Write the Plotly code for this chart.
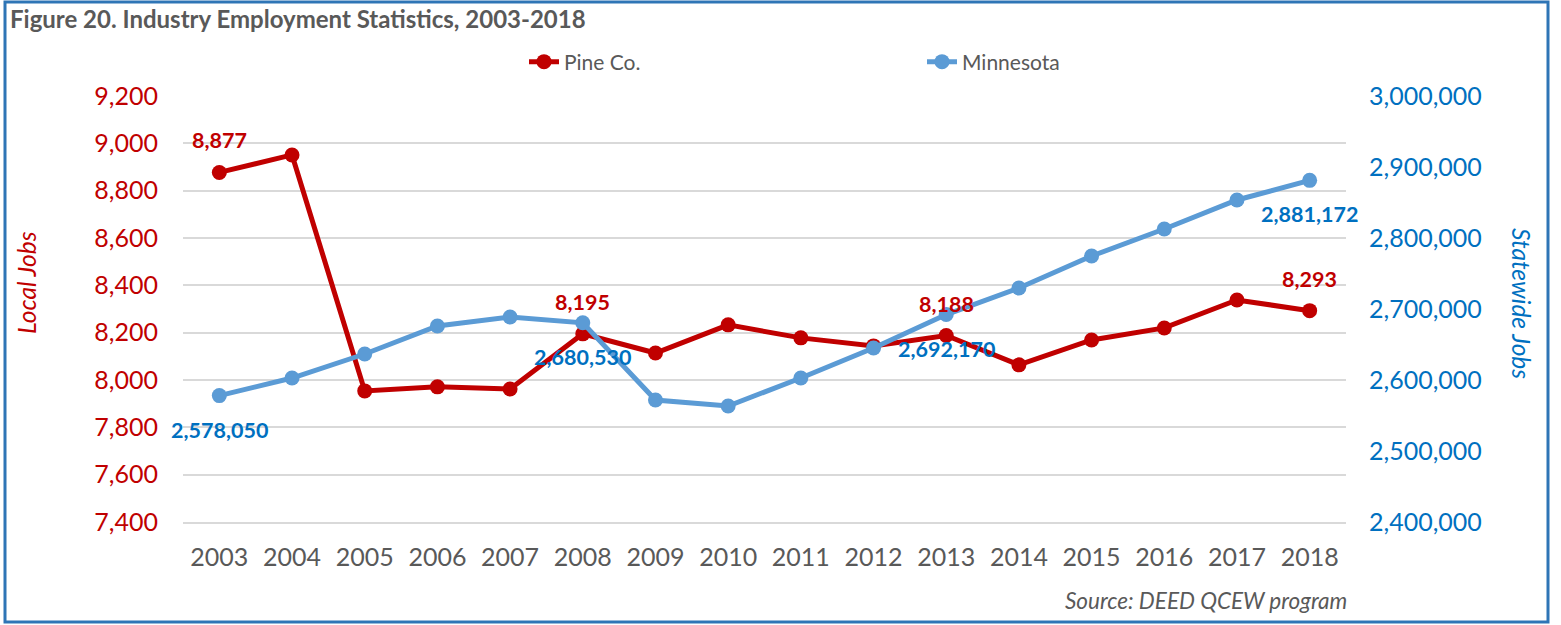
import plotly.graph_objects as go

years = list(range(2003, 2019))
pine = [8877, 8951, 7954, 7971, 7962, 8195, 8114, 8233, 8178, 8144, 8188, 8064, 8169, 8220, 8338, 8293]
minnesota = [2578050, 2602817, 2636620, 2676056, 2688732, 2680530, 2571831, 2563380,
             2602817, 2645070, 2692170, 2729577, 2774648, 2812676, 2853521, 2881172]
pine_label_idx = [0, 5, 10, 15]
mn_label_idx = [0, 5, 10, 15]

RED = "#C00000"
LBLUE = "#5B9BD5"
DBLUE = "#0070C0"
GRAY = "#595959"
FONT = "Lato"

W, H = 1561, 625
L, R, T, B = 183, 215, 96, 103
PW, PH = W - L - R, H - T - B


def px(x):
    return (x - L) / PW


def py(y):
    return (H - B - y) / PH


fig = go.Figure()
fig.add_trace(go.Scatter(
    x=years, y=pine, name="Pine Co.", mode="lines+markers",
    line=dict(color=RED, width=5), marker=dict(color=RED, size=15), yaxis="y"))
fig.add_trace(go.Scatter(
    x=years, y=minnesota, name="Minnesota", mode="lines+markers",
    line=dict(color=LBLUE, width=5), marker=dict(color=LBLUE, size=15), yaxis="y2"))

ann = []
for i in pine_label_idx:
    ann.append(dict(x=years[i], y=pine[i], xref="x", yref="y", text=f"{pine[i]:,}",
                    showarrow=False, yshift=32, font=dict(family=FONT, size=21.5, color=RED, weight="bold")))
for i in mn_label_idx:
    ann.append(dict(x=years[i], y=minnesota[i], xref="x", yref="y2", text=f"{minnesota[i]:,}",
                    showarrow=False, yshift=-34, font=dict(family=FONT, size=21.5, color=DBLUE, weight="bold")))

ann.append(dict(x=px(26), y=py(283), xref="paper", yref="paper", text="<i>Local Jobs</i>",
                xanchor="center", yanchor="middle",
                textangle=-90, showarrow=False, font=dict(family=FONT, size=24.5, color=RED)))
ann.append(dict(x=px(1522), y=py(303), xref="paper", yref="paper", text="<i>Statewide Jobs</i>",
                xanchor="center", yanchor="middle",
                textangle=90, showarrow=False, font=dict(family=FONT, size=24.5, color=DBLUE)))
ann.append(dict(x=px(1349), y=py(600), xref="paper", yref="paper", text="<i>Source: DEED QCEW program</i>",
                xanchor="right", yanchor="middle", showarrow=False,
                font=dict(family=FONT, size=22.5, color=GRAY)))

fig.update_layout(
    width=W, height=H,
    margin=dict(l=L, r=R, t=T, b=B, autoexpand=False),
    paper_bgcolor="white", plot_bgcolor="white",
    font=dict(family=FONT, color=GRAY),
    title=dict(text="<b>Figure 20. Industry Employment Statistics, 2003-2018</b>",
               x=10 / W, xref="container", xanchor="left",
               y=1 - 20 / H, yref="container", yanchor="middle",
               font=dict(family=FONT, size=24, color=GRAY)),
    legend=dict(orientation="h", x=px(524), y=py(62), xanchor="left", yanchor="middle",
                entrywidth=353, entrywidthmode="pixels",
                font=dict(family=FONT, size=21, color=GRAY), bgcolor="rgba(0,0,0,0)"),
    xaxis=dict(range=[2002.5, 2018.5], dtick=1, tick0=2003, showgrid=False, showline=True,
               linecolor="#D9D9D9", linewidth=2, zeroline=False,
               ticks="", ticklabelstandoff=12, tickfont=dict(family=FONT, size=25, color=GRAY)),
    yaxis=dict(range=[7400, 9200], dtick=200, tick0=7400, tickformat=",", showgrid=True,
               gridcolor="#D9D9D9", gridwidth=2, zeroline=False, showline=False,
               ticklabelstandoff=24, tickfont=dict(family=FONT, size=25, color=RED)),
    yaxis2=dict(range=[2400000, 3000000], dtick=100000, tick0=2400000, tickformat=",",
                overlaying="y", side="right", showgrid=False, zeroline=False, showline=False,
                ticklabelstandoff=22, tickfont=dict(family=FONT, size=25, color=DBLUE)),
    annotations=ann,
    shapes=[dict(type="rect", xref="paper", yref="paper",
                 x0=px(5), x1=px(1548), y0=py(622), y1=py(2),
                 line=dict(color="#2E75B6", width=3), fillcolor="rgba(0,0,0,0)", layer="below")],
    showlegend=True,
)

fig.write_html("out.html", config={"displayModeBar": False},
               post_script="document.body.style.margin='0';")
